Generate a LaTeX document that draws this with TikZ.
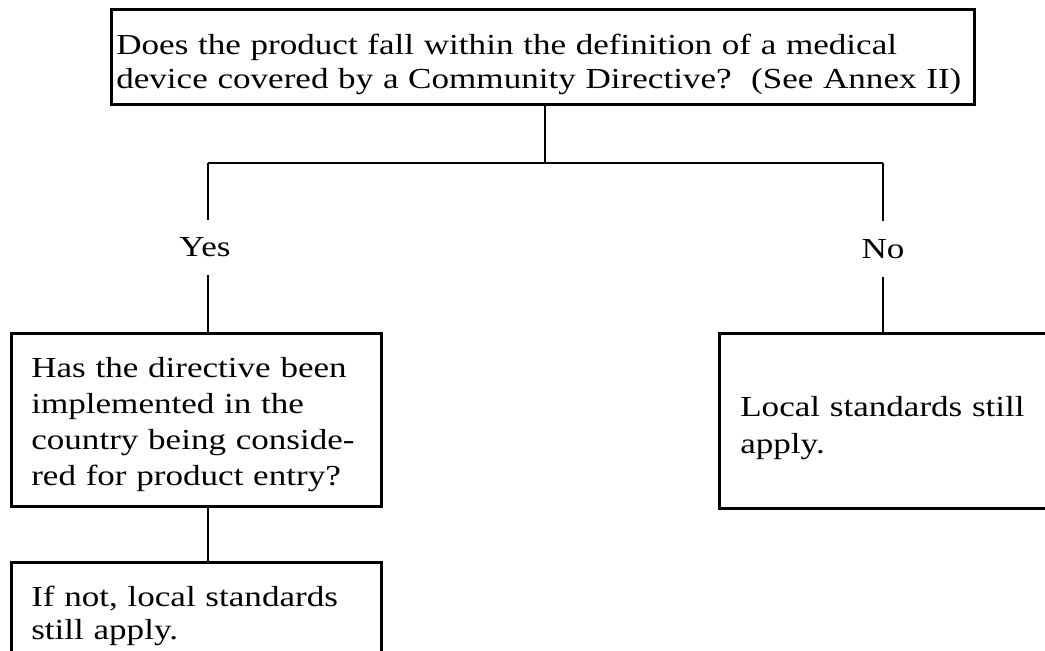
\documentclass[tikz,border=0pt]{standalone}
\usepackage{fontspec}
\setmainfont{Liberation Serif}[FakeStretch=1.21]
\newcommand{\topgap}[1]{\rule{0pt}{#1}}
\newcommand{\botgap}[1]{\rule[-#1]{0pt}{0pt}}
\begin{document}
\begin{tikzpicture}[x=0.5pt,y=-0.5pt,
  txt/.style={font=\fontsize{14.5}{17.5}\selectfont},
  box/.style={txt, draw, line width=1.3pt, align=left, inner ysep=0pt, anchor=north west},
  lab/.style={txt, inner sep=0pt},
  conn/.style={line width=1.3pt}]
\useasboundingbox (0,0) rectangle (1045,651);
\clip (0,0) rectangle (1045,651);

% question box (x 110--973, y 8--103)
\node[box, font=\fontsize{14.5}{17}\selectfont, text width=426.5pt, inner xsep=2.5pt] (q) at (110,8)
  {\topgap{22.5pt}\mbox{Does the product fall within the definition of a medical}\\
   \mbox{device covered by a Community Directive?\ \ (See Annex II)}\botgap{8pt}};

% branch coordinates
\coordinate (jc) at (545,163);
\coordinate (ya) at (208,163);
\coordinate (nb) at (883,163);

% labels
\node[lab, minimum height=27.5pt] (yes) at (205,247.5) {Yes};
\node[lab, minimum height=28pt] (no) at (883,249) {No};

% left question box (x 10--380, y 332--505)
\node[box, font=\fontsize{14.5}{18}\selectfont, text width=165pt, inner xsep=10pt] (impl) at (10,332)
  {\topgap{22pt}\mbox{Has the directive been}\\
   \mbox{implemented in the}\\
   \mbox{country being conside-}\\
   \mbox{red for product entry?}\botgap{10.5pt}};

% bottom box (x 10--380, top 561, runs past the lower edge)
\node[box, font=\fontsize{14.5}{16.5}\selectfont, text width=165pt, inner xsep=10pt] (ifnot) at (10,561)
  {\topgap{22pt}\mbox{If not, local standards}\\
   \mbox{still apply.}\botgap{21pt}};

% right box (x 718--1048, y 332--507)
\node[box, font=\fontsize{14.5}{18.5}\selectfont, text width=144pt, inner xsep=10.5pt] (local) at (718,332)
  {\topgap{41.5pt}\mbox{Local standards still}\\
   \mbox{apply.}\botgap{27.5pt}};

% connectors
\draw[conn] (jc |- q.south) -- (jc);
\draw[conn] (ya) -- (nb);
\draw[conn] (ya) -- (ya |- yes.north);
\draw[conn] (ya |- yes.south) -- (ya |- impl.north);
\draw[conn] (ya |- impl.south) -- (ya |- ifnot.north);
\draw[conn] (nb) -- (no.north);
\draw[conn] (no.south) -- (no.south |- local.north);
\end{tikzpicture}
\end{document}
